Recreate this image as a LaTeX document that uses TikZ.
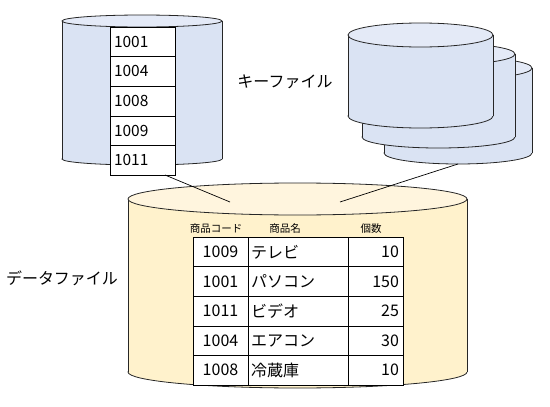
\documentclass[tikz,border=0pt]{standalone}
\usepackage{fontspec}
\setmainfont{Noto Sans CJK JP}
\usepackage{tikz}
\usetikzlibrary{positioning}
\definecolor{keybody}{RGB}{218,227,243}
\definecolor{keytop}{RGB}{228,234,247}
\definecolor{datbody}{RGB}{255,242,204}
\definecolor{dattop}{RGB}{255,245,222}
\newcommand{\dbdrum}[8]{%
  \draw[drum,fill=#7] (#2,#4) ellipse[x radius=#5,y radius=#6];
  \fill[#7] (#2-#5,#3) rectangle (#2+#5,#4);
  \draw[drum] (#2-#5,#3) -- (#2-#5,#4) (#2+#5,#3) -- (#2+#5,#4);
  \draw[drum,fill=#8] (#2,#3) ellipse[x radius=#5,y radius=#6];
  \coordinate (#1-bot) at (#2,#4+#6);}

\begin{document}
\begin{tikzpicture}[x=1pt,y=-1pt,
  drum/.style={draw=black!85,line width=0.8pt},
  kcell/.style={draw,fill=white,anchor=north west,minimum width=65pt,
                minimum height=29.6pt,inner xsep=0pt,outer sep=0pt,text width=57pt,
                align=left,font=\fontsize{15.5}{17}\selectfont},
  dcell/.style={draw,fill=white,anchor=north west,minimum height=29.6pt,
                inner xsep=0pt,outer sep=0pt,font=\fontsize{16}{18}\selectfont},
  hdr/.style={font=\fontsize{10.5}{12}\selectfont,inner sep=0pt},
  lbl/.style={font=\fontsize{16}{18}\selectfont,inner sep=0pt}]
  \useasboundingbox (0,0) rectangle (550,407);
  \dbdrum{key}{142}{21}{159}{80}{6}{keybody}{keytop}
  \dbdrum{back}{458}{68}{153}{74}{11}{keybody}{keytop}
  \dbdrum{mid}{438.5}{54}{137}{76.5}{11}{keybody}{keytop}
  \dbdrum{front}{420.5}{35}{116}{72.5}{12}{keybody}{keytop}
  \foreach \v [count=\i] in {1001,1004,1008,1009,1011}
    \node[kcell] (k\i) at (110,27+29.6*\i-29.6) {\v};
  \dbdrum{dat}{297.5}{199}{372}{169.5}{16}{datbody}{dattop}
  \coordinate (keytail) at (165,175);
  \coordinate (dtop1) at (230,202);
  \coordinate (dtop2) at (340,202);
  \draw[line width=0.7pt] (keytail) -- (dtop1);
  \draw[line width=0.7pt] (back-bot) -- (dtop2);
  \node[lbl] (keyname) at (285,82) {キーファイル};
  \node[lbl] (datname) at (62,278) {データファイル};
  \node[hdr] (h1) at (216,229) {商品コード};
  \node[hdr] (h2) at (285,229) {商品名};
  \node[hdr] (h3) at (371,229) {個数};
  \foreach \c/\n/\q [count=\i] in {1009/テレビ/10,1001/パソコン/150,
      1011/ビデオ/25,1004/エアコン/30,1008/冷蔵庫/10}{
    \node[dcell,minimum width=54.4pt,align=center] (c\i) at (193.3,237+29.6*\i-29.6) {\c};
    \node[dcell,minimum width=100pt,text width=93pt,align=left] (n\i) at (c\i.north east) {\n};
    \node[dcell,minimum width=55.6pt,text width=47pt,align=right] (q\i) at (n\i.north east) {\q};
  }
\end{tikzpicture}
\end{document}
